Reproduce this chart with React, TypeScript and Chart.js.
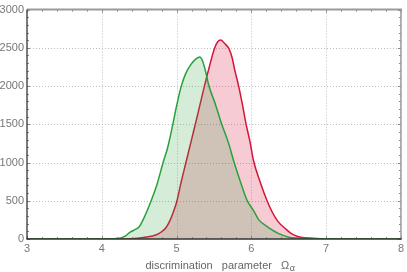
import React, { useEffect, useRef } from "react";
import { Chart, registerables } from "chart.js";
Chart.register(...registerables);

const omegaGreen = [3, 4.0, 4.2, 4.3, 4.38, 4.45, 4.5, 4.55, 4.66, 4.74, 4.82, 4.88, 4.95, 5.0, 5.06, 5.12, 5.19, 5.26, 5.31, 5.35, 5.39, 5.43, 5.52, 5.6, 5.69, 5.77, 5.86, 5.94, 6.03, 6.1, 6.23, 6.36, 6.5, 6.63, 6.8, 7.0, 7.5, 8];
const countGreen = [0, 0, 5, 30, 90, 125, 160, 246, 500, 720, 1000, 1194, 1500, 1740, 1990, 2160, 2280, 2355, 2379, 2320, 2180, 2010, 1760, 1510, 1270, 1000, 730, 510, 370, 250, 150, 74, 24, 12, 5, 2, 0, 0];

const omegaRed = [3, 4.33, 4.5, 4.6, 4.72, 4.8, 4.86, 4.92, 4.97, 5.0, 5.06, 5.13, 5.2, 5.28, 5.36, 5.44, 5.51, 5.55, 5.59, 5.64, 5.7, 5.74, 5.78, 5.83, 5.88, 5.93, 5.98, 6.03, 6.12, 6.21, 6.28, 6.36, 6.45, 6.53, 6.63, 6.71, 6.85, 7.0, 7.5, 8];
const countRed = [0, 0, 12, 25, 52, 95, 150, 260, 390, 480, 740, 1020, 1300, 1620, 1950, 2260, 2500, 2580, 2603, 2560, 2490, 2380, 2200, 2000, 1760, 1500, 1280, 1020, 740, 500, 350, 224, 140, 74, 30, 15, 8, 4, 1, 0];

const xTicks = [3, 4, 5, 6, 7, 8];
const yTicks = [0, 500, 1000, 1500, 2000, 2500, 3000];
const axisTitle = "discrimination   parameter   Ω";
const axisTitleSub = "α";

const FONT = "'Liberation Sans', Arial, sans-serif";

const framePlugin = {
  id: "frame",
  beforeDatasetsDraw(chart: any) {
    const { ctx, chartArea: a, scales } = chart;
    const xs = scales.x, ys = scales.y;
    ctx.save();
    ctx.strokeStyle = "#bdbdbd";
    ctx.lineWidth = 1;
    ctx.setLineDash([1, 2]);
    xTicks.slice(1, -1).forEach((v) => {
      const px = Math.round(xs.getPixelForValue(v)) + 0.5;
      ctx.beginPath(); ctx.moveTo(px, a.top); ctx.lineTo(px, a.bottom); ctx.stroke();
    });
    yTicks.slice(1, -1).forEach((v) => {
      const py = Math.round(ys.getPixelForValue(v)) + 0.5;
      ctx.beginPath(); ctx.moveTo(a.left, py); ctx.lineTo(a.right, py); ctx.stroke();
    });
    ctx.restore();
  },
  afterDatasetsDraw(chart: any) {
    const { ctx, chartArea: a, scales } = chart;
    const xs = scales.x, ys = scales.y;
    ctx.save();
    ctx.strokeStyle = "#888";
    ctx.lineWidth = 1;
    for (let i = 0; i <= 25; i++) {
      const v = 3 + i * 0.2;
      const px = Math.round(xs.getPixelForValue(v)) + 0.5;
      const len = i % 5 === 0 ? 3 : 2;
      ctx.beginPath(); ctx.moveTo(px, a.top); ctx.lineTo(px, a.top + len); ctx.stroke();
      ctx.beginPath(); ctx.moveTo(px, a.bottom); ctx.lineTo(px, a.bottom - len); ctx.stroke();
    }
    for (let i = 0; i <= 30; i++) {
      const v = i * 100;
      const py = Math.round(ys.getPixelForValue(v)) + 0.5;
      const len = i % 5 === 0 ? 3 : 2;
      ctx.beginPath(); ctx.moveTo(a.left, py); ctx.lineTo(a.left + len, py); ctx.stroke();
      ctx.beginPath(); ctx.moveTo(a.right, py); ctx.lineTo(a.right - len, py); ctx.stroke();
    }
    ctx.strokeStyle = "#999";
    ctx.lineWidth = 2;
    ctx.beginPath(); ctx.moveTo(a.left, a.top); ctx.lineTo(a.right + 1, a.top); ctx.stroke();
    ctx.lineWidth = 1.5;
    ctx.beginPath(); ctx.moveTo(a.right, a.top); ctx.lineTo(a.right, a.bottom); ctx.stroke();
    ctx.strokeStyle = "#333";
    ctx.lineWidth = 1.3;
    ctx.beginPath(); ctx.moveTo(a.left, a.top); ctx.lineTo(a.left, a.bottom); ctx.stroke();
    ctx.lineWidth = 1.5;
    ctx.beginPath(); ctx.moveTo(a.left - 0.6, a.bottom); ctx.lineTo(a.right + 0.7, a.bottom); ctx.stroke();
    ctx.fillStyle = "#666";
    ctx.font = `11px ${FONT}`;
    ctx.textBaseline = "alphabetic";
    const w1 = ctx.measureText(axisTitle).width;
    ctx.font = `9px ${FONT}`;
    const w2 = ctx.measureText(axisTitleSub).width;
    const total = w1 + w2;
    const cx = (a.left + a.right) / 2 + 6;
    const x0 = cx - total / 2;
    const by = 269;
    ctx.font = `11px ${FONT}`;
    ctx.textAlign = "left";
    ctx.fillText(axisTitle, x0, by);
    ctx.font = `9px ${FONT}`;
    ctx.fillText(axisTitleSub, x0 + w1 + 0.5, by + 2);
    ctx.restore();
  },
};

export default function App() {
  const ref = useRef<HTMLCanvasElement>(null);
  useEffect(() => {
    const chart = new Chart(ref.current as HTMLCanvasElement, {
      type: "line",
      data: {
        datasets: [
          {
            data: omegaGreen.map((x, i) => ({ x, y: countGreen[i] })),
            borderColor: "rgb(40,160,60)",
            backgroundColor: "rgba(40,160,60,0.2)",
            fill: "origin",
            borderWidth: 1.5,
            pointRadius: 0,
            cubicInterpolationMode: "monotone",
          },
          {
            data: omegaRed.map((x, i) => ({ x, y: countRed[i] })),
            borderColor: "rgb(215,20,55)",
            backgroundColor: "rgba(220,20,60,0.22)",
            fill: "origin",
            borderWidth: 1.5,
            pointRadius: 0,
            cubicInterpolationMode: "monotone",
          },
        ],
      },
      options: {
        animation: false,
        responsive: false,
        layout: { padding: { top: 7, right: 4, left: 0, bottom: 0 } },
        plugins: { legend: { display: false }, tooltip: { enabled: false } },
        scales: {
          x: {
            type: "linear",
            min: 3,
            max: 8,
            afterBuildTicks: (s: any) => { s.ticks = xTicks.map((v) => ({ value: v })); },
            ticks: { color: "#777", font: { family: FONT, size: 11 }, padding: 3, maxRotation: 0, callback: (v: any) => String(v) },
            grid: { display: false, drawTicks: false },
            border: { display: false },
            afterFit: (s: any) => { s.height = 33; },
          },
          y: {
            type: "linear",
            min: 0,
            max: 3000,
            afterBuildTicks: (s: any) => { s.ticks = yTicks.map((v) => ({ value: v })); },
            ticks: { color: "#777", font: { family: FONT, size: 11 }, padding: 3, callback: (v: any) => String(v) },
            grid: { display: false, drawTicks: false },
            border: { display: false },
            afterFit: (s: any) => { s.width = 27; },
          },
        },
      },
      plugins: [framePlugin],
    } as any);
    return () => chart.destroy();
  }, []);
  return (
    <div style={{ position: "fixed", left: 0, top: 0, width: 407, height: 272, background: "#fff" }}>
      <canvas ref={ref} width={407} height={272} style={{ display: "block" }} />
    </div>
  );
}
